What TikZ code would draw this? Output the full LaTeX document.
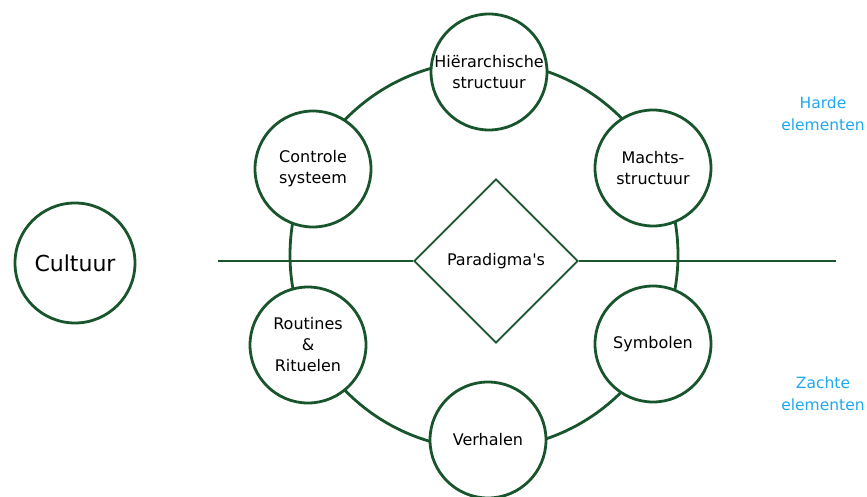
\documentclass[tikz,border=0pt]{standalone}
\usepackage{fontspec}
\setmainfont{DejaVu Sans}
\usetikzlibrary{shapes.geometric}
\definecolor{dgreen}{RGB}{24,84,44}
\definecolor{lblue}{RGB}{30,168,240}
\begin{document}
\begin{tikzpicture}[x=1pt,y=-1pt,
  elem/.style={circle,draw=dgreen,line width=2.8pt,fill=white,minimum size=116pt,inner sep=0pt,align=center,font=\fontsize{16}{21}\selectfont},
  note/.style={text=lblue,align=center,font=\fontsize{15.5}{22}\selectfont}]
\useasboundingbox (0,0) rectangle (867,497);
\draw[dgreen,line width=2.8pt] (484,255) circle [radius=194pt];
\coordinate (L) at (218,261);
\coordinate (R) at (836,261);
\node[diamond,draw=dgreen,line width=1.8pt,fill=white,aspect=1,minimum width=164pt,minimum height=164pt,inner sep=0pt,font=\fontsize{16}{21}\selectfont] (par) at (496,261) {Paradigma\textquotesingle s};
\draw[dgreen,line width=1.4pt] (L) -- (par.west);
\draw[dgreen,line width=1.4pt] (par.east) -- (R);
\node[elem] (hier) at (489,72) {Hiërarchische\\structuur};
\node[elem] (ctrl) at (313,169) {Controle\\systeem};
\node[elem] (macht) at (653,168) {Machts-\\structuur};
\node[elem] (rout) at (308,345) {Routines\\\&\\Rituelen};
\node[elem] (symb) at (653,344) {Symbolen};
\node[elem] (verh) at (488,440) {Verhalen};
\node[elem,minimum size=120pt,font=\fontsize{22}{24}\selectfont] (cult) at (75,263) {Cultuur};
\node[note] (hard) at (823,114) {Harde\\elementen};
\node[note] (zacht) at (823,394) {Zachte\\elementen};
\end{tikzpicture}
\end{document}
